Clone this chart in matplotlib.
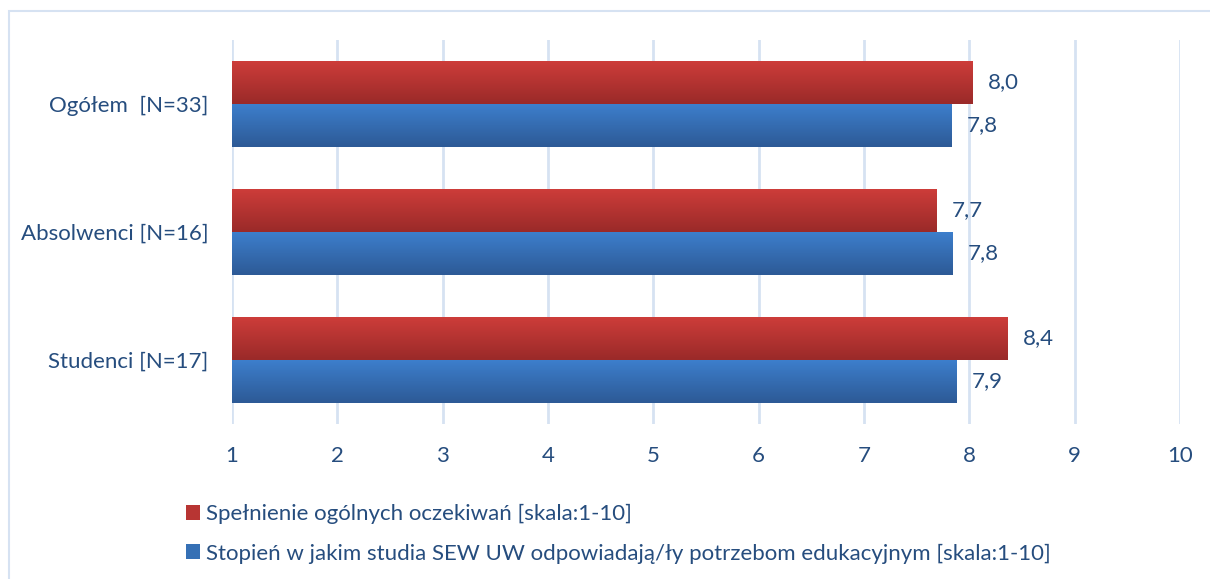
import numpy as np
import matplotlib
matplotlib.use("Agg")
import matplotlib.pyplot as plt
from matplotlib.patches import Patch, Rectangle
from matplotlib.colors import LinearSegmentedColormap

# data
categories = ["Ogółem  [N=33]", "Absolwenci [N=16]", "Studenci [N=17]"]
expectations = [8.03, 7.69, 8.36]
education_fit = [7.83, 7.84, 7.88]
series_names = ["Spełnienie ogólnych oczekiwań [skala:1-10]",
                "Stopień w jakim studia SEW UW odpowiadają/ły potrzebom edukacyjnym [skala:1-10]"]
xticks = [1, 2, 3, 4, 5, 6, 7, 8, 9, 10]

text_color = "#264D7E"
grid_color = "#D6E2F2"
fs = 16
plt.rcParams["font.family"] = ["Lato", "DejaVu Sans"]

fig = plt.figure(figsize=(12.1, 5.79), dpi=100)
ax = fig.add_axes([232 / 1210, 1 - 424 / 579, (1180 - 232) / 1210, (424 - 40) / 579])

y = np.arange(len(categories))
h = 0.336
base = 1
red_bars = ax.barh(y - h / 2, np.array(expectations) - base, left=base, height=h,
                   color="#B83533", zorder=3)
blue_bars = ax.barh(y + h / 2, np.array(education_fit) - base, left=base, height=h,
                    color="#3570B5", zorder=3)

# vertical gradient on every bar
grad = np.linspace(0, 1, 64).reshape(-1, 1)
red_cmap = LinearSegmentedColormap.from_list("r", ["#CE3D3A", "#9A2A29"])
blue_cmap = LinearSegmentedColormap.from_list("b", ["#3D7FCD", "#2D5A96"])
for bars, cmap in [(red_bars, red_cmap), (blue_bars, blue_cmap)]:
    for p in bars:
        x0, y0 = p.get_x(), p.get_y()
        im = ax.imshow(grad, cmap=cmap, aspect="auto", zorder=4,
                       extent=(x0, x0 + p.get_width(), y0 + p.get_height(), y0))
        im.set_clip_path(p)

fmt = lambda v: f"{v + base:.1f}".replace(".", ",")
ax.bar_label(red_bars, labels=[fmt(p.get_width()) for p in red_bars],
             padding=11, color=text_color, fontsize=fs)
ax.bar_label(blue_bars, labels=[fmt(p.get_width()) for p in blue_bars],
             padding=11, color=text_color, fontsize=fs)

ax.set_xlim(1, 10)
ax.set_ylim(2.5, -0.5)
ax.set_xticks(xticks)
ax.set_yticks(y)
ax.set_yticklabels(categories)
ax.tick_params(axis="both", length=0, labelcolor=text_color, labelsize=fs)
ax.tick_params(axis="x", pad=16)
ax.tick_params(axis="y", pad=17)
ax.grid(axis="x", color=grid_color, linewidth=2, zorder=0)
ax.set_axisbelow(True)
for s in ax.spines.values():
    s.set_visible(False)

handles = [Patch(facecolor="#B83533"), Patch(facecolor="#3570B5")]
fig.legend(handles, series_names, loc="upper left",
           bbox_to_anchor=(177 / 1210, 1 - 495 / 579), frameon=False,
           fontsize=fs, labelcolor=text_color, handlelength=0.65, handleheight=0.65,
           handletextpad=0.25, labelspacing=0.87, borderaxespad=0)

# chart area border
fig.patches.append(Rectangle((9 / 1210, -0.05), 1.1, 1 - 11 / 579 + 0.05,
                             transform=fig.transFigure, fill=False,
                             edgecolor=grid_color, linewidth=1.5))

fig.savefig("out.png", dpi=100)
